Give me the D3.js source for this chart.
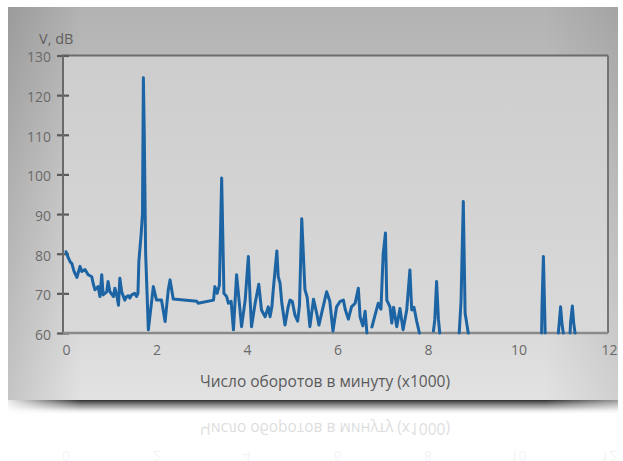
<!DOCTYPE html>
<html><head><meta charset="utf-8">
<script src="https://cdn.jsdelivr.net/npm/d3@7/dist/d3.min.js"></script>
<style>html,body{margin:0;padding:0;background:#fff;}svg{display:block;}</style>
</head><body>
<svg id="c" width="623" height="461"></svg>
<script>
// ---- data ----
const rpm = [0.00,0.05,0.09,0.13,0.18,0.24,0.31,0.35,0.42,0.49,0.57,0.60,0.64,0.71,0.75,0.79,0.82,0.90,0.93,0.97,
1.05,1.08,1.12,1.16,1.19,1.23,1.30,1.34,1.38,1.41,1.45,1.52,1.56,1.59,1.61,1.66,1.69,1.71,1.73,1.76,1.82,1.93,
2.00,2.11,2.19,2.26,2.30,2.37,2.89,2.92,3.26,3.29,3.34,3.39,3.44,3.49,3.55,3.59,3.65,3.70,3.77,3.81,3.88,3.96,
4.03,4.07,4.10,4.18,4.26,4.32,4.40,4.47,4.51,4.55,4.58,4.66,4.69,4.73,4.77,4.84,4.91,4.95,5.00,5.06,5.12,5.16,
5.21,5.28,5.33,5.39,5.47,5.54,5.59,5.65,5.76,5.83,5.90,5.98,6.06,6.13,6.17,6.24,6.31,6.39,6.46,6.50,6.56,6.61,
6.65,6.70,6.76,6.83,6.90,6.96,7.01,7.06,7.09,7.16,7.20,7.24,7.31,7.38,7.45,7.53,7.60,7.64,7.69,7.75,7.81,7.95,
8.12,8.15,8.19,8.23,8.26,8.45,8.69,8.73,8.78,8.82,8.89,9.50,10.51,10.52,10.55,10.59,10.75,10.88,10.90,10.93,
10.96,10.99,11.05,11.14,11.15,11.19,11.22,11.25];
const vdb = [80.5,79,78,77.5,75.5,74,76.8,75.5,76,74.7,74.2,72.5,70.9,71.7,69.2,74.7,69.6,70.4,73,70.4,
69.2,71.3,69.6,67,73.8,70.4,68.3,69.2,69.4,68.8,69.6,70,69.2,70,78,84.8,90,124.4,110,80,60.8,71.7,
68.3,68.3,62.9,70.9,73.4,68.6,68,67.5,68.3,71.7,70,72.1,99.1,70,69.2,67.5,68,60.8,74.7,70,61.6,68.3,
79.3,68.3,61.6,67.5,72.3,65.8,64.1,66.6,64.1,66.6,70.9,80.7,74.2,72.6,67.5,62,66.6,68.3,68,64.5,63,67,
88.8,71,69,61.6,68.5,65,62,65,70.4,68,60.5,66.6,68,68.3,66,63.5,66.6,67.5,71.3,64,61.8,65.5,
60,null,61.5,64.5,67.5,66,80,85.2,68.3,66.6,62.5,66.5,61.6,66.2,60.8,65.8,75.9,65.8,66.5,63,60,null,
60.5,63.3,73,63.5,60,null,60,68,93.2,65,60,null,60,67,79.3,60,null,60,62.5,66.6,
62.5,60,null,60,62.5,66.8,62.5,60];
const xTicks = [0,2,4,6,8,10,12];
const yTicks = [60,70,80,90,100,110,120,130];
const yLabel = "V, dB";
const xLabel = "Число оборотов в минуту (x1000)";

// ---- drawing ----
const svg = d3.select("#c");
const defs = svg.append("defs");
const g1 = defs.append("linearGradient").attr("id","card").attr("x1",0).attr("y1",0).attr("x2",0).attr("y2",1);
g1.append("stop").attr("offset","0%").attr("stop-color","#b2b2b2");
g1.append("stop").attr("offset","45%").attr("stop-color","#cacaca");
g1.append("stop").attr("offset","100%").attr("stop-color","#e2e2e2");
const g2 = defs.append("linearGradient").attr("id","side").attr("x1",0).attr("y1",0).attr("x2",1).attr("y2",0);
g2.append("stop").attr("offset","0%").attr("stop-color","#000").attr("stop-opacity",0.13);
g2.append("stop").attr("offset","12%").attr("stop-color","#000").attr("stop-opacity",0);
g2.append("stop").attr("offset","88%").attr("stop-color","#000").attr("stop-opacity",0);
g2.append("stop").attr("offset","100%").attr("stop-color","#000").attr("stop-opacity",0.08);
const g3 = defs.append("linearGradient").attr("id","plot").attr("x1",0).attr("y1",0).attr("x2",0).attr("y2",1);
g3.append("stop").attr("offset","0%").attr("stop-color","#cdcdcd");
g3.append("stop").attr("offset","100%").attr("stop-color","#d9d9d9");
const g4 = defs.append("linearGradient").attr("id","shadow").attr("x1",0).attr("y1",0).attr("x2",0).attr("y2",1);
g4.append("stop").attr("offset","0%").attr("stop-color","#222").attr("stop-opacity",0.95);
g4.append("stop").attr("offset","50%").attr("stop-color","#666").attr("stop-opacity",0.5);
g4.append("stop").attr("offset","100%").attr("stop-color","#ffffff").attr("stop-opacity",0);
const g5 = defs.append("linearGradient").attr("id","shadowX").attr("x1",0).attr("y1",0).attr("x2",1).attr("y2",0);
g5.append("stop").attr("offset","0%").attr("stop-color","#fff").attr("stop-opacity",0.9);
g5.append("stop").attr("offset","12%").attr("stop-color","#fff").attr("stop-opacity",0);
g5.append("stop").attr("offset","88%").attr("stop-color","#fff").attr("stop-opacity",0);
g5.append("stop").attr("offset","100%").attr("stop-color","#fff").attr("stop-opacity",0.5);

const card = {x:8, y:7, w:610, h:393};
// shadow under card
svg.append("rect").attr("x",card.x).attr("y",card.y+card.h).attr("width",card.w).attr("height",15).attr("fill","url(#shadow)");
svg.append("rect").attr("x",card.x).attr("y",card.y+card.h).attr("width",card.w).attr("height",15).attr("fill","url(#shadowX)");
svg.append("rect").attr("x",card.x).attr("y",card.y).attr("width",card.w).attr("height",card.h).attr("fill","url(#card)");
svg.append("rect").attr("x",card.x).attr("y",card.y).attr("width",card.w).attr("height",card.h).attr("fill","url(#side)");

const m = {l:63, r:608, t:55.5, b:333};
const x = d3.scaleLinear().domain([0,12]).range([66, 609]);
const y = d3.scaleLinear().domain([60,130]).range([m.b, m.t]);

svg.append("rect").attr("x",m.l).attr("y",m.t).attr("width",m.r-m.l).attr("height",m.b-m.t).attr("fill","url(#plot)");

const fontF = "'Open Sans', 'DejaVu Sans', sans-serif";

// frame
svg.append("line").attr("x1",m.l).attr("x2",m.r).attr("y1",m.t).attr("y2",m.t).attr("stroke","#6c6c6c").attr("stroke-width",1.8);
svg.append("line").attr("x1",m.r).attr("x2",m.r).attr("y1",m.t).attr("y2",m.b).attr("stroke","#6c6c6c").attr("stroke-width",1.8);

// y axis
const yAxis = d3.axisLeft(y).tickValues(yTicks).tickSize(0).tickPadding(12);
const ya = svg.append("g").attr("transform",`translate(${m.l},0)`).call(yAxis);
ya.select(".domain").remove();
ya.selectAll(".tick text").attr("font-family",fontF).attr("font-size",14).attr("fill","#6a6a6a").attr("dy","0.45em");
ya.selectAll(".tick").append("line").attr("x1",-6).attr("x2",6).attr("stroke","#5a5a5a").attr("stroke-width",2.2);
svg.append("line").attr("x1",m.l).attr("x2",m.l).attr("y1",m.t-1).attr("y2",m.b).attr("stroke","#6a6a6a").attr("stroke-width",2);

// x axis
const xAxis = d3.axisBottom(x).tickValues(xTicks).tickSize(0).tickPadding(12);
const xa = svg.append("g").attr("transform",`translate(0,${m.b})`).call(xAxis);
xa.select(".domain").remove();
xa.selectAll(".tick text").attr("font-family",fontF).attr("font-size",14).attr("fill","#6a6a6a");
svg.append("line").attr("x1",m.l).attr("x2",m.r).attr("y1",m.b).attr("y2",m.b).attr("stroke","#8a8a8a").attr("stroke-width",2.5);

// labels
svg.append("text").attr("x",39).attr("y",44).attr("font-family",fontF).attr("font-size",14.5).attr("fill","#5f5f5f").text(yLabel);
svg.append("text").attr("x",325).attr("y",387).attr("text-anchor","middle").attr("font-family",fontF).attr("font-size",15.5).attr("fill","#5a5a5a").text(xLabel);

// line
const pts = rpm.map((r,i)=>({r, v: vdb[i]}));
const line = d3.line().defined(d=>d.v!=null).x(d=>x(d.r)).y(d=>y(d.v));
svg.append("path").datum(pts).attr("d",line).attr("fill","none").attr("stroke","#1c64a3")
  .attr("stroke-width",3).attr("stroke-linejoin","round").attr("stroke-linecap","round");

// reflection
const refl = svg.append("g").attr("transform","translate(0,810) scale(1,-1)").attr("opacity",0.2);
refl.append("text").attr("x",325).attr("y",387).attr("text-anchor","middle").attr("font-family",fontF).attr("font-size",15.5).attr("fill","#5a5a5a").text(xLabel);
const refl2 = svg.append("g").attr("transform","translate(0,810) scale(1,-1)").attr("opacity",0.07);
refl2.selectAll("text").data(xTicks).join("text").attr("x",d=>x(d)).attr("y",m.b+26).attr("text-anchor","middle")
  .attr("font-family",fontF).attr("font-size",14).attr("fill","#6a6a6a").text(d=>d);
</script>
</body></html>
